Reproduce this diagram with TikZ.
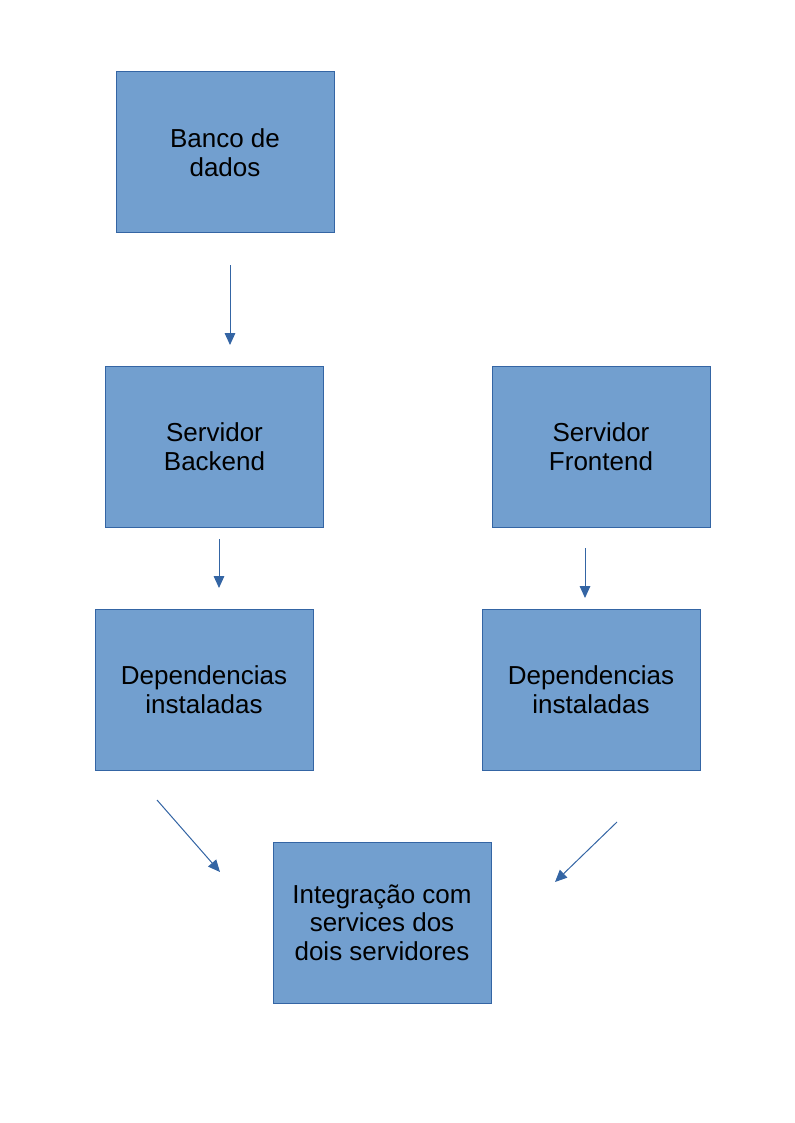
\documentclass[tikz,border=0pt]{standalone}
\usepackage{fontspec}
\setmainfont{Liberation Sans}
\usetikzlibrary{arrows.meta}
\definecolor{boxfill}{HTML}{729FCF}
\definecolor{boxline}{HTML}{3465A4}

\begin{document}
\begin{tikzpicture}[x=0.75pt, y=-0.75pt,
    etapa/.style={draw=boxline, fill=boxfill, line width=0.75pt,
        minimum width=163.5pt, minimum height=120.75pt, inner sep=0pt,
        align=center, font=\fontsize{19.5}{21.5}\selectfont},
    seta/.style={draw=boxline, line width=0.75pt,
        -{Triangle[length=9pt, width=8pt]}}]
    % page area
    \useasboundingbox (0,0) rectangle (794,1123);

    % Blocks
    \node[etapa] (banco) at (225,152.5) {Banco de\\dados};
    \node[etapa] (backend) at (214.5,446.5) {Servidor\\Backend};
    \node[etapa] (frontend) at (601,446.5) {Servidor\\Frontend};
    \node[etapa] (depback) at (204,689.5) {Dependencias\\instaladas};
    \node[etapa] (depfront) at (591,689.5) {Dependencias\\instaladas};
    \node[etapa] (integ) at (382,922.5) {Integração com\\services dos\\dois servidores};

    % Arrow ends (arrows float between the blocks)
    \coordinate (a1) at (230,265);  \coordinate (b1) at (230,345);
    \coordinate (a2) at (219,539);  \coordinate (b2) at (219,588);
    \coordinate (a3) at (585,548);  \coordinate (b3) at (585,598);
    \coordinate (a4) at (157,800);  \coordinate (b4) at (220,872);
    \coordinate (a5) at (617,822);  \coordinate (b5) at (555,882);

    % Arrows
    \draw[seta] (a1) -- (b1);
    \draw[seta] (a2) -- (b2);
    \draw[seta] (a3) -- (b3);
    \draw[seta] (a4) -- (b4);
    \draw[seta] (a5) -- (b5);
\end{tikzpicture}
\end{document}
